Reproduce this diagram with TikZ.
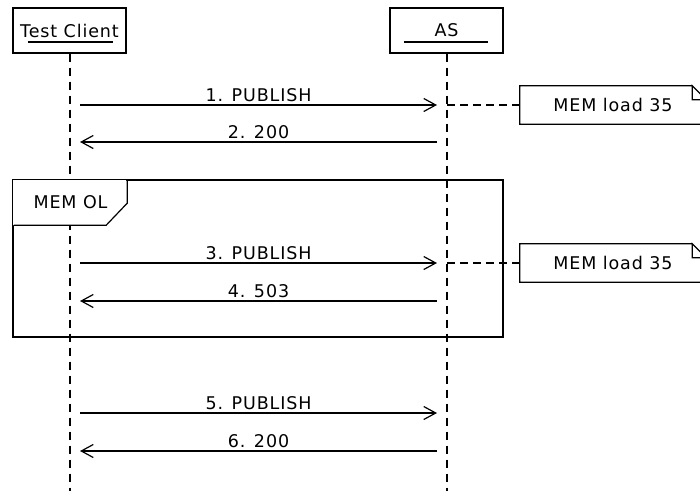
\documentclass[tikz,border=0pt]{standalone}
\usepackage{fontspec}
\setmainfont{DejaVu Sans}[LetterSpace=5]
\usetikzlibrary{arrows.meta}
\begin{document}
\begin{tikzpicture}[x=1pt,y=-1pt,
  font=\fontsize{17.5}{20}\selectfont,
  actorbox/.style={draw, line width=1.2pt, minimum width=113pt, minimum height=45pt, inner sep=0pt},
  lifeline/.style={draw, line width=1.3pt, dash pattern=on 8pt off 6pt},
  msg/.style={draw, line width=1.2pt, -{Straight Barb[length=12pt,width=13pt,line width=1.2pt]}},
  lbl/.style={midway, above, inner sep=3pt},
  notebox/.style={minimum width=186pt, minimum height=38pt, inner sep=0pt},
  noteline/.style={draw, line width=1.2pt},
  notelink/.style={draw, line width=1.2pt, dash pattern=on 8pt off 5pt},
  framebox/.style={draw, line width=1.2pt, minimum width=490pt, minimum height=157pt, inner sep=0pt},
  tabbox/.style={minimum width=113pt, minimum height=45pt, inner sep=0pt},
  uline/.style={draw, line width=1.2pt}
]
\clip (0,0) rectangle (700,490);
\fill[white] (0,0) rectangle (700,490);

% actors
\node[actorbox] (tc) at (69.5,30.5) {Test Client};
\node[actorbox] (as) at (446.5,30.5) {AS};
\draw[uline] ([xshift=-42pt,yshift=-11.5pt]tc.center) -- ([xshift=43pt,yshift=-11.5pt]tc.center);
\draw[uline] ([xshift=-43pt,yshift=-11.5pt]as.center) -- ([xshift=41pt,yshift=-11.5pt]as.center);

% lifelines
\coordinate (tcend) at (70,492);
\coordinate (asend) at (447,492);
\draw[lifeline] (tc.south -| tcend) -- (tcend);
\draw[lifeline] (as.south -| asend) -- (asend);

% frame
\node[framebox] (frame) at (258,258.5) {};
\coordinate (tabpos) at (70.5,202.5);
\fill[white] (13,180) -- (126,180) -- (126,203) -- (105,225) -- (13,225) -- cycle;
\node[tabbox] (tab) at (tabpos) {MEM OL};
\draw[noteline] (tab.north east) -- ([yshift=22pt]tab.south east) -- ([xshift=-21pt]tab.south east) -- (tab.south west);
\draw[noteline] (frame.north west) rectangle (frame.south east);

% message coordinates
\coordinate (c1) at (80,105);  \coordinate (s1) at (437,105);  \coordinate (l1) at (447,105);
\coordinate (c2) at (80,142);  \coordinate (s2) at (437,142);
\coordinate (c3) at (80,263);  \coordinate (s3) at (437,263);  \coordinate (l3) at (447,263);
\coordinate (c4) at (80,301);  \coordinate (s4) at (437,301);
\coordinate (c5) at (80,413);  \coordinate (s5) at (437,413);
\coordinate (c6) at (80,451);  \coordinate (s6) at (437,451);

\draw[msg] (c1) -- (s1) node[lbl] {1. PUBLISH};
\draw[msg] (s2) -- (c2) node[lbl] {2. 200};
\draw[msg] (c3) -- (s3) node[lbl] {3. PUBLISH};
\draw[msg] (s4) -- (c4) node[lbl] {4. 503};
\draw[msg] (c5) -- (s5) node[lbl] {5. PUBLISH};
\draw[msg] (s6) -- (c6) node[lbl] {6. 200};

% notes
\node[notebox] (n1) at (613,105) {MEM load 35};
\node[notebox] (n2) at (613,263) {MEM load 35};
\foreach \n in {n1,n2}{
  \draw[noteline] ([xshift=-14pt]\n.north east) -- (\n.north west) -- (\n.south west) -- (\n.south east) -- ([yshift=-14pt]\n.north east) -- ([xshift=-14pt]\n.north east) |- ([yshift=-14pt]\n.north east);
}
\draw[notelink] (l1) -- (n1.west);
\draw[notelink] (l3) -- (n2.west);
\end{tikzpicture}
\end{document}
